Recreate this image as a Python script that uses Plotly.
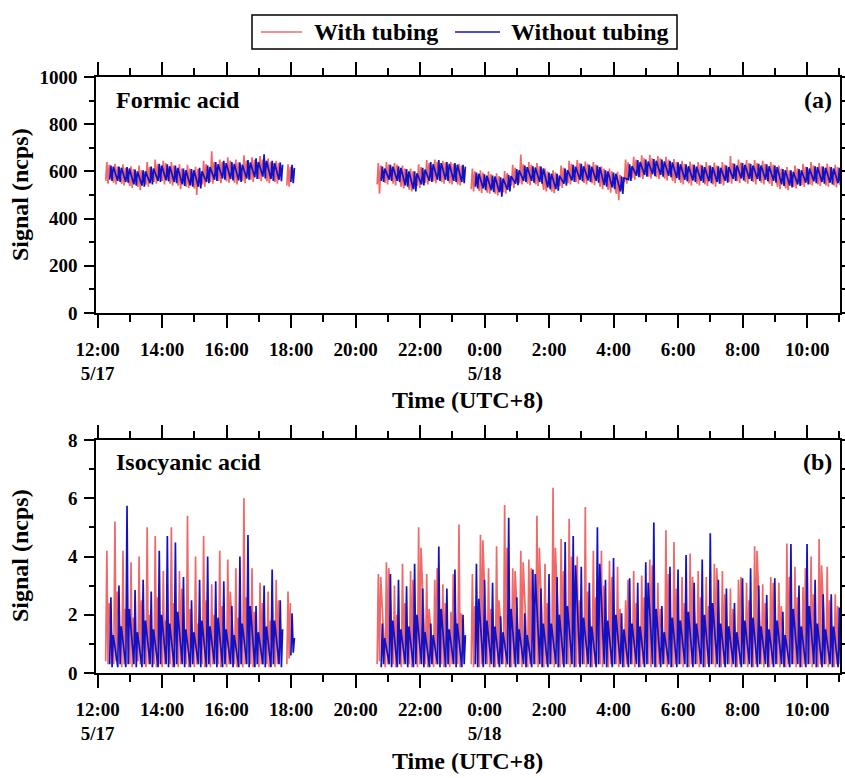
import plotly.graph_objects as go
from datetime import datetime, timedelta

# ---------------- data ----------------
# measurement blocks: start time of the first 15-min switching cycle, number of cycles
block_starts = ["2024-05-17 12:15", "2024-05-17 17:52", "2024-05-17 20:40", "2024-05-17 23:35"]
block_cycles = [22, 1, 11, 46]
# minutes from cycle start of the samples in each half-cycle
with_offsets = [0.0, 2.2, 4.4, 6.6]
without_offsets = [7.5, 9.7, 11.9, 14.1]

# Formic acid (ncps), one row per cycle
formic_with = [
    [560, 640, 548, 628], [552, 632, 545, 620], [548, 630, 540, 615], [538, 622, 530, 610],
    [535, 625, 520, 605], [545, 640, 535, 620], [555, 650, 548, 630], [560, 645, 545, 635],
    [548, 640, 540, 625], [540, 630, 525, 612], [535, 628, 530, 612], [528, 620, 500, 610],
    [545, 645, 535, 630], [555, 685, 548, 640], [560, 650, 550, 640], [558, 660, 552, 645],
    [552, 650, 545, 638], [560, 668, 550, 645], [565, 660, 555, 648], [568, 665, 558, 650],
    [558, 655, 550, 640], [555, 645, 548, 635],
    [540, 630, 535, 620],
    [545, 635, 505, 625], [552, 640, 545, 630], [548, 635, 540, 628], [535, 625, 528, 612],
    [522, 612, 515, 600], [538, 630, 530, 618], [552, 648, 545, 635], [558, 650, 550, 640],
    [555, 645, 548, 638], [550, 640, 545, 632], [545, 632, 540, 625],
    [525, 612, 515, 600], [518, 605, 508, 595], [510, 600, 505, 588], [505, 592, 498, 580],
    [512, 602, 505, 592], [540, 628, 530, 615], [550, 672, 545, 630], [548, 640, 542, 628],
    [545, 635, 538, 622], [522, 612, 515, 600], [515, 605, 508, 595], [538, 625, 530, 615],
    [550, 645, 545, 632], [555, 648, 548, 635], [552, 642, 545, 632], [550, 640, 542, 628],
    [535, 622, 525, 612], [522, 612, 510, 600], [505, 598, 478, 585], [555, 650, 548, 638],
    [572, 662, 565, 650], [575, 668, 568, 655], [578, 670, 570, 655], [575, 665, 568, 655],
    [570, 662, 562, 650], [560, 652, 550, 640], [552, 645, 545, 632], [550, 642, 540, 630],
    [548, 640, 540, 628], [545, 640, 538, 625], [545, 638, 535, 625], [548, 640, 540, 628],
    [555, 665, 548, 635], [558, 650, 550, 638], [555, 648, 548, 635], [555, 648, 545, 635],
    [552, 645, 545, 632], [548, 640, 538, 628], [535, 625, 525, 612], [528, 618, 520, 605],
    [535, 625, 528, 612], [542, 632, 535, 620], [545, 640, 540, 625], [545, 635, 538, 622],
    [540, 632, 535, 620], [540, 628, 532, 618],
]
formic_without = [
    [565, 625, 560, 620], [560, 620, 555, 615], [555, 618, 552, 612], [545, 608, 540, 600],
    [540, 605, 535, 600], [550, 620, 545, 612], [560, 632, 555, 625], [562, 630, 558, 622],
    [555, 625, 550, 615], [545, 612, 538, 605], [540, 610, 535, 605], [535, 615, 528, 600],
    [555, 625, 550, 618], [565, 640, 560, 630], [570, 645, 565, 635], [568, 640, 562, 632],
    [562, 638, 555, 628], [570, 648, 565, 638], [575, 655, 568, 640], [578, 672, 570, 645],
    [568, 645, 560, 635], [565, 638, 558, 628],
    [555, 628, 550, 615],
    [560, 620, 555, 612], [565, 628, 560, 620], [560, 622, 555, 615], [540, 610, 535, 600],
    [525, 600, 515, 592], [545, 615, 540, 608], [560, 640, 555, 630], [565, 648, 560, 635],
    [565, 640, 560, 632], [560, 635, 555, 628], [555, 628, 550, 620],
    [535, 595, 528, 590], [528, 588, 520, 582], [520, 582, 512, 578], [512, 575, 493, 570],
    [522, 585, 515, 580], [548, 610, 542, 605], [560, 625, 555, 618], [560, 622, 552, 616],
    [555, 620, 548, 612], [532, 595, 525, 590], [525, 590, 518, 582], [548, 612, 540, 605],
    [562, 628, 555, 620], [565, 632, 558, 622], [562, 628, 555, 620], [560, 625, 552, 618],
    [542, 605, 535, 600], [532, 595, 525, 590], [515, 578, 505, 572], [565, 630, 560, 622],
    [582, 648, 575, 640], [585, 650, 578, 642], [588, 652, 580, 645], [585, 650, 578, 642],
    [582, 645, 575, 638], [572, 638, 565, 630], [565, 630, 558, 622], [562, 628, 555, 620],
    [560, 625, 552, 618], [558, 625, 550, 618], [555, 622, 548, 615], [560, 625, 552, 618],
    [568, 632, 560, 625], [570, 635, 562, 628], [568, 632, 560, 625], [568, 632, 560, 625],
    [565, 630, 558, 622], [560, 625, 552, 618], [545, 610, 538, 605], [540, 605, 532, 598],
    [545, 610, 538, 605], [552, 618, 545, 612], [558, 622, 550, 618], [555, 620, 548, 615],
    [552, 618, 545, 612], [550, 615, 542, 610],
]

# Isocyanic acid (ncps), one row per cycle
isocyanic_with = [
    [0.4, 4.2, 0.3, 2.4], [0.3, 5.2, 0.4, 2.8], [0.2, 4.2, 0.3, 2.2], [0.3, 3.8, 0.2, 1.9],
    [0.4, 4.0, 0.3, 2.5], [0.2, 5.0, 0.3, 2.0], [0.3, 4.7, 0.2, 2.6], [0.2, 3.5, 0.3, 1.8],
    [0.3, 5.0, 0.2, 2.4], [0.2, 3.5, 0.3, 2.9], [0.3, 5.4, 0.2, 2.2], [0.2, 4.0, 0.3, 1.7],
    [0.3, 4.7, 0.2, 2.5], [0.2, 3.05, 0.3, 2.0], [0.3, 4.2, 0.2, 2.3], [0.2, 3.9, 0.3, 2.8],
    [0.3, 3.6, 0.2, 1.9], [0.2, 6.0, 0.3, 2.6], [0.3, 3.6, 0.2, 2.1], [0.2, 3.1, 0.3, 2.4],
    [0.3, 2.8, 0.2, 1.8], [0.2, 3.2, 0.3, 2.5],
    [0.3, 2.8, 0.5, 2.4],
    [0.3, 3.4, 0.4, 3.3], [0.2, 3.8, 0.3, 3.6], [0.3, 3.0, 0.2, 2.0], [0.2, 3.75, 0.3, 2.4],
    [0.3, 3.5, 0.2, 3.2], [0.2, 5.0, 0.3, 4.3], [0.3, 3.4, 0.2, 2.2], [0.2, 3.2, 0.3, 3.6],
    [0.3, 3.05, 0.2, 2.4], [0.2, 2.1, 0.3, 3.4], [0.3, 5.1, 0.2, 2.05],
    [0.3, 3.4, 0.2, 2.3], [0.2, 4.75, 0.3, 4.56], [0.3, 3.6, 0.2, 2.2], [0.2, 4.35, 0.3, 2.5],
    [0.3, 5.77, 0.2, 4.3], [0.2, 3.6, 0.3, 3.5], [0.3, 4.2, 0.2, 3.8], [0.2, 3.9, 0.3, 3.6],
    [0.3, 5.4, 0.2, 4.3], [0.2, 3.75, 0.3, 2.4], [0.3, 6.36, 0.2, 4.3], [0.2, 4.6, 0.3, 3.5],
    [0.3, 5.3, 0.2, 4.0], [0.2, 4.0, 0.3, 2.5], [0.3, 5.7, 0.2, 2.8], [0.2, 4.2, 0.3, 2.6],
    [0.3, 4.2, 0.2, 3.0], [0.2, 3.85, 0.3, 3.3], [0.3, 3.65, 0.2, 2.2], [0.2, 2.5, 0.3, 3.2],
    [0.3, 3.5, 0.2, 2.4], [0.2, 3.35, 0.3, 2.6], [0.3, 3.9, 0.2, 3.7], [0.2, 3.1, 0.3, 2.2],
    [0.3, 4.9, 0.2, 3.4], [0.2, 4.5, 0.3, 2.9], [0.3, 3.3, 0.2, 2.4], [0.2, 4.1, 0.3, 3.3],
    [0.3, 3.5, 0.2, 2.6], [0.2, 3.3, 0.3, 2.3], [0.3, 3.75, 0.2, 3.6], [0.2, 3.5, 0.3, 2.7],
    [0.3, 2.9, 0.2, 2.2], [0.2, 3.2, 0.3, 3.3], [0.3, 3.1, 0.2, 2.5], [0.2, 4.35, 0.3, 4.2],
    [0.3, 3.05, 0.2, 2.4], [0.2, 3.3, 0.3, 3.1], [0.3, 3.1, 0.2, 2.3], [0.2, 4.45, 0.3, 3.3],
    [0.3, 3.65, 0.2, 2.6], [0.2, 2.95, 0.3, 3.6], [0.3, 4.0, 0.2, 2.7], [0.2, 4.6, 0.3, 3.7],
    [0.3, 3.65, 0.2, 2.5], [0.2, 2.7, 0.3, 2.3],
]
isocyanic_without = [
    [0.3, 2.6, 0.2, 1.3], [0.2, 3.0, 0.3, 1.6], [0.2, 5.74, 0.3, 2.2], [0.3, 2.85, 0.2, 1.4],
    [0.2, 3.2, 0.3, 1.8], [0.3, 2.8, 0.2, 1.5], [0.2, 4.2, 0.3, 2.0], [0.3, 4.7, 0.2, 1.7],
    [0.2, 4.48, 0.3, 2.1], [0.3, 3.3, 0.2, 1.5], [0.2, 2.5, 0.3, 1.4], [0.3, 3.2, 0.2, 1.8],
    [0.2, 4.0, 0.3, 1.6], [0.3, 3.15, 0.2, 1.9], [0.2, 3.15, 0.3, 1.5], [0.3, 2.3, 0.2, 1.3],
    [0.2, 4.0, 0.3, 1.7], [0.3, 4.74, 0.2, 2.3], [0.2, 2.3, 0.3, 1.4], [0.3, 3.0, 0.2, 1.6],
    [0.2, 3.55, 0.3, 1.8], [0.3, 2.5, 0.2, 1.5],
    [0.6, 2.05, 0.7, 1.2],
    [0.2, 1.7, 0.3, 1.2], [0.3, 3.4, 0.2, 1.8], [0.2, 3.2, 0.3, 1.5], [0.3, 2.98, 0.2, 1.6],
    [0.2, 3.75, 0.3, 2.0], [0.3, 2.9, 0.2, 1.4], [0.2, 1.7, 0.3, 1.3], [0.3, 4.34, 0.2, 2.2],
    [0.2, 2.9, 0.3, 1.5], [0.3, 3.55, 0.2, 1.7], [0.2, 2.0, 0.3, 1.3],
    [0.3, 3.75, 0.2, 2.55], [0.2, 3.2, 0.3, 1.8], [0.3, 3.1, 0.2, 1.6], [0.2, 1.95, 0.3, 1.4],
    [0.3, 5.33, 0.2, 2.2], [0.2, 2.6, 0.3, 1.5], [0.3, 2.05, 0.2, 1.3], [0.2, 3.55, 0.3, 3.4],
    [0.3, 2.9, 0.2, 1.7], [0.2, 3.4, 0.3, 1.7], [0.3, 3.3, 0.2, 2.0], [0.2, 4.5, 0.3, 2.3],
    [0.3, 4.7, 0.2, 3.7], [0.2, 3.65, 0.3, 1.9], [0.3, 3.1, 0.2, 1.6], [0.2, 5.0, 0.3, 3.75],
    [0.3, 3.2, 0.2, 1.8], [0.2, 3.95, 0.3, 2.0], [0.3, 2.05, 0.2, 1.5], [0.2, 3.25, 0.3, 1.7],
    [0.3, 3.1, 0.2, 1.6], [0.2, 3.8, 0.3, 3.1], [0.3, 5.17, 0.2, 2.2], [0.2, 2.3, 0.3, 1.4],
    [0.3, 3.65, 0.2, 1.9], [0.2, 3.55, 0.3, 1.8], [0.3, 4.05, 0.2, 2.1], [0.2, 3.1, 0.3, 1.7],
    [0.3, 3.9, 0.2, 2.0], [0.2, 4.8, 0.3, 2.4], [0.3, 3.2, 0.2, 1.7], [0.2, 2.9, 0.3, 1.6],
    [0.3, 2.4, 0.2, 1.4], [0.2, 3.25, 0.3, 1.8], [0.3, 3.6, 0.2, 1.9], [0.2, 3.0, 0.3, 1.6],
    [0.3, 2.68, 0.2, 1.5], [0.2, 3.25, 0.3, 1.8], [0.3, 2.1, 0.2, 1.3], [0.2, 4.43, 0.3, 2.2],
    [0.3, 3.0, 0.2, 1.6], [0.2, 4.43, 0.3, 2.3], [0.3, 3.2, 0.2, 1.7], [0.2, 2.7, 0.3, 1.5],
    [0.3, 2.7, 0.2, 1.6], [0.2, 2.25, 0.3, 1.4],
]

tick_times = ["2024-05-17 12:00", "2024-05-17 14:00", "2024-05-17 16:00", "2024-05-17 18:00",
              "2024-05-17 20:00", "2024-05-17 22:00", "2024-05-18 00:00", "2024-05-18 02:00",
              "2024-05-18 04:00", "2024-05-18 06:00", "2024-05-18 08:00", "2024-05-18 10:00"]
tick_labels = ["12:00<br>5/17", "14:00", "16:00", "18:00", "20:00", "22:00",
               "0:00<br>5/18", "2:00", "4:00", "6:00", "8:00", "10:00"]
minor_times = ["2024-05-17 13:00", "2024-05-17 15:00", "2024-05-17 17:00", "2024-05-17 19:00",
               "2024-05-17 21:00", "2024-05-17 23:00", "2024-05-18 01:00", "2024-05-18 03:00",
               "2024-05-18 05:00", "2024-05-18 07:00", "2024-05-18 09:00", "2024-05-18 11:00"]
x_range = ["2024-05-17 11:57", "2024-05-18 11:01"]
series_names = ["With tubing", "Without tubing"]

C_WITH = "#F06868"
C_WITHOUT = "#1212C4"
FONT = "Liberation Serif"


def build(values, offsets):
    xs, ys = [], []
    i = 0
    for start, n in zip(block_starts, block_cycles):
        t0 = datetime.strptime(start, "%Y-%m-%d %H:%M")
        for c in range(n):
            for off, v in zip(offsets, values[i]):
                xs.append(t0 + timedelta(minutes=15 * c + off))
                ys.append(v)
            i += 1
        xs.append(None)
        ys.append(None)
    return xs, ys


fig = go.Figure()
for vals, offs, color, name, xa, ya in [
    (formic_with, with_offsets, C_WITH, series_names[0], "x", "y"),
    (formic_without, without_offsets, C_WITHOUT, series_names[1], "x", "y"),
    (isocyanic_with, with_offsets, C_WITH, series_names[0], "x2", "y2"),
    (isocyanic_without, without_offsets, C_WITHOUT, series_names[1], "x2", "y2"),
]:
    xs, ys = build(vals, offs)
    fig.add_trace(go.Scatter(x=xs, y=ys, mode="lines", name=name, showlegend=False,
                             line=dict(color=color, width=1.7), xaxis=xa, yaxis=ya,
                             connectgaps=False))

tickfont = dict(family=FONT, size=19, color="black", weight="bold")
xcommon = dict(type="date", range=x_range, tickmode="array", tickvals=tick_times,
               ticktext=tick_labels, ticks="outside", ticklen=13, tickwidth=1.5,
               tickcolor="black", showline=True, linecolor="black", linewidth=1.5,
               mirror="ticks", showgrid=False, zeroline=False, tickfont=tickfont,
               ticklabelstandoff=5, automargin=False,
               minor=dict(tickmode="array", tickvals=minor_times, ticks="outside",
                          ticklen=7, tickwidth=1.5, tickcolor="black", showgrid=False))
ycommon = dict(ticks="outside", ticklen=10, tickwidth=1.5, tickcolor="black",
               showline=True, linecolor="black", linewidth=1.5, mirror="ticks",
               showgrid=False, zeroline=False, tickfont=tickfont, ticklabelstandoff=3,
               automargin=False)

W, H = 845, 778
ML, MR, MT, MB = 96, 5, 77, 105
PW, PH = W - ML - MR, H - MT - MB


def px(xpix):
    return (xpix - ML) / PW


def py(ypix):
    return (H - MB - ypix) / PH


fig.update_layout(
    template="none",
    width=W, height=H, margin=dict(l=ML, r=MR, t=MT, b=MB, autoexpand=False),
    paper_bgcolor="white", plot_bgcolor="white",
    font=dict(family=FONT, color="black"),
    xaxis=dict(domain=[0, 1], anchor="y", **xcommon),
    yaxis=dict(domain=[py(313), 1], anchor="x", range=[0, 1000], tickvals=[0, 200, 400, 600, 800, 1000],
               minor=dict(dtick=100, ticks="outside", ticklen=5, tickwidth=1.5, tickcolor="black"),
               **ycommon),
    xaxis2=dict(domain=[0, 1], anchor="y2", **xcommon),
    yaxis2=dict(domain=[0, py(440)], anchor="x2", range=[0, 8], tickvals=[0, 2, 4, 6, 8],
                minor=dict(dtick=1, ticks="outside", ticklen=5, tickwidth=1.5, tickcolor="black"),
                **ycommon),
    showlegend=False,
)

big = dict(family=FONT, size=24, color="black", weight="bold")
annotations = [
    dict(text="Formic acid", x=px(114), y=py(100), xanchor="left", yanchor="middle", font=big),
    dict(text="(a)", x=px(834), y=py(100), xanchor="right", yanchor="middle", font=big),
    dict(text="Isocyanic acid", x=px(114), y=py(462), xanchor="left", yanchor="middle", font=big),
    dict(text="(b)", x=px(834), y=py(462), xanchor="right", yanchor="middle", font=big),
    dict(text="Time (UTC+8)", x=px(467), y=py(400), xanchor="center", yanchor="middle", font=big),
    dict(text="Time (UTC+8)", x=px(467), y=py(761), xanchor="center", yanchor="middle", font=big),
    dict(text="Signal (ncps)", x=px(20), y=py(195), xanchor="center", yanchor="middle",
         textangle=-90, font=big),
    dict(text="Signal (ncps)", x=px(20), y=py(556), xanchor="center", yanchor="middle",
         textangle=-90, font=big),
    # legend texts
    dict(text=series_names[0], x=px(312), y=py(32), xanchor="left", yanchor="middle", font=big),
    dict(text=series_names[1], x=px(509), y=py(32), xanchor="left", yanchor="middle", font=big),
]
for a in annotations:
    a.update(xref="paper", yref="paper", showarrow=False)

shapes = [
    dict(type="rect", x0=px(252), x1=px(677), y0=py(15), y1=py(49),
         line=dict(color="black", width=1.5), fillcolor="white"),
    dict(type="line", x0=px(261), x1=px(302), y0=py(32), y1=py(32), line=dict(color=C_WITH, width=1.6)),
    dict(type="line", x0=px(455), x1=px(500), y0=py(32), y1=py(32), line=dict(color=C_WITHOUT, width=1.6)),
]
for s in shapes:
    s.update(xref="paper", yref="paper", layer="below")
fig.update_layout(annotations=annotations, shapes=shapes)

fig.write_html("out.html", config={"displayModeBar": False},
               post_script="document.body.style.margin='0px';document.body.style.overflow='hidden';")
